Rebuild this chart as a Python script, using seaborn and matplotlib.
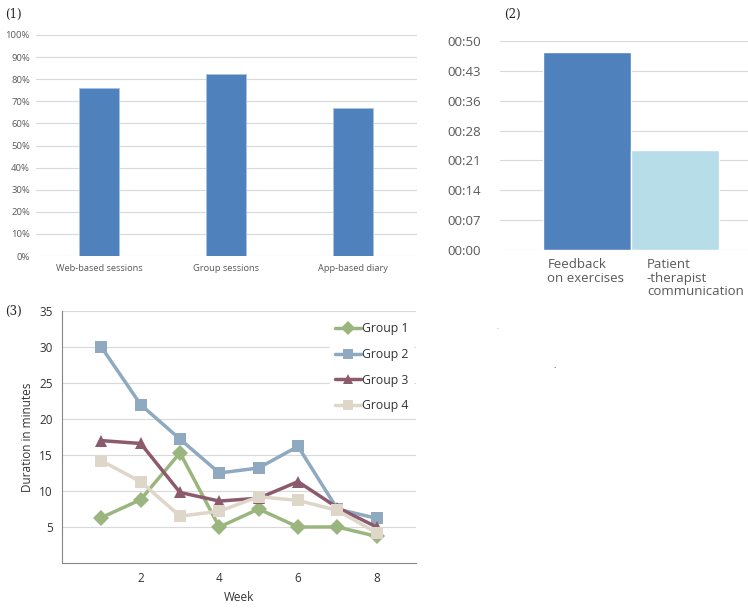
import matplotlib
matplotlib.use("Agg")
import matplotlib.pyplot as plt
import seaborn as sns
import pandas as pd

# (1) attendance / usage
usage_cats = ["Web-based sessions", "Group sessions", "App-based diary"]
usage_vals = [0.76, 0.823, 0.67]

# (2) time spent (minutes)
time_cats = ["Feedback\non exercises", "Patient\n-therapist\ncommunication"]
time_vals = [47.3, 23.9]
time_ticklabels = ["00:00", "00:07", "00:14", "00:21", "00:28", "00:36", "00:43", "00:50"]

# (3) duration per week
weeks = [1, 2, 3, 4, 5, 6, 7, 8]
group1 = [6.3, 8.8, 15.3, 5.0, 7.5, 5.0, 5.0, 3.7]
group2 = [30.0, 22.0, 17.2, 12.5, 13.2, 16.2, 7.5, 6.2]
group3 = [17.0, 16.6, 9.8, 8.6, 9.0, 11.3, 7.7, 5.0]
group4 = [14.2, 11.3, 6.5, 7.2, 9.2, 8.7, 7.3, 4.2]

sns.set_style("white")
plt.rcParams['font.family'] = ['Open Sans', 'DejaVu Sans']

fig = plt.figure(figsize=(7.48, 6.08), dpi=100)
W, H = 748, 608

def px_axes(x0, y0, x1, y1):
    # pixel box (top-left origin) -> figure axes
    return fig.add_axes([x0 / W, 1 - y1 / H, (x1 - x0) / W, (y1 - y0) / H])

grid_col = "#D9D9D9"
text_col = "#595959"

# ---------- panel 1 ----------
ax1 = px_axes(35.5, 35, 416.5, 256)
df1 = pd.DataFrame({"cat": usage_cats, "val": usage_vals})
sns.barplot(data=df1, x="cat", y="val", color="#4F81BD", width=0.31,
            edgecolor="#A9C4E4", linewidth=0.6, saturation=1, ax=ax1, zorder=3)
ax1.set_ylim(0, 1)
ax1.set_xlim(-0.5, 2.5)
ax1.set_yticks([i / 10 for i in range(11)])
ax1.set_yticklabels([f"{i * 10}%" for i in range(11)], fontsize=6.8, color=text_col)
ax1.tick_params(axis="x", labelsize=6.7, labelcolor=text_col, length=0, pad=6)
ax1.tick_params(axis="y", length=0, pad=4)
ax1.yaxis.grid(True, color=grid_col, linewidth=0.8, zorder=0)
ax1.set_axisbelow(True)
ax1.set_xlabel("")
ax1.set_ylabel("")
for s in ax1.spines.values():
    s.set_visible(False)

# ---------- panel 2 ----------
ax2 = px_axes(500, 41, 748, 250)
df2 = pd.DataFrame({"cat": time_cats, "val": time_vals})
sns.barplot(data=df2, x="cat", y="val", hue="cat", palette=["#4F81BD", "#B7DDE8"],
            width=1.0, saturation=1, legend=False, ax=ax2, zorder=3)
ax2.set_ylim(0, 50)
ax2.set_xlim(-0.99, 1.83)
ax2.set_yticks([i * 50 / 7 for i in range(8)])
ax2.set_yticklabels(time_ticklabels, fontsize=9.5, color=text_col)
ax2.tick_params(axis="y", length=0, pad=14)
ax2.set_xticks([])
ax2.yaxis.grid(True, color=grid_col, linewidth=0.8, zorder=0)
ax2.set_axisbelow(True)
ax2.set_xlabel("")
ax2.set_ylabel("")
for s in ax2.spines.values():
    s.set_visible(False)
for i, (lab, off) in enumerate(zip(time_cats, [-0.45, -0.32])):
    ax2.text(i + off, -0.04, lab, transform=ax2.get_xaxis_transform(),
             ha="left", va="top", fontsize=9.5, color=text_col, linespacing=1.05)

# ---------- panel 3 ----------
ax3 = px_axes(62, 311, 416, 563)
df3 = pd.DataFrame({
    "Week": weeks * 4,
    "Duration": group1 + group2 + group3 + group4,
    "Group": ["Group 1"] * 8 + ["Group 2"] * 8 + ["Group 3"] * 8 + ["Group 4"] * 8,
})
pal = {"Group 1": "#9BB57E", "Group 2": "#8EA9C0", "Group 3": "#8B5A6C", "Group 4": "#DED6C9"}
mk = {"Group 1": "D", "Group 2": "s", "Group 3": "^", "Group 4": "s"}
sns.lineplot(data=df3, x="Week", y="Duration", hue="Group", style="Group",
             palette=pal, markers=mk, dashes=False, linewidth=2.5,
             markersize=8, markeredgewidth=0, ax=ax3, zorder=3)
ax3.set_xlim(0, 9)
ax3.set_ylim(0, 35)
ax3.set_yticks([5, 10, 15, 20, 25, 30, 35])
ax3.set_xticks([0, 2, 4, 6, 8])
ax3.set_xticklabels(["", "2", "4", "6", "8"])
ax3.tick_params(axis="both", labelsize=8.5, labelcolor="#333333", color="#868686",
                length=3, width=0.8, direction="out")
ax3.yaxis.grid(True, color=grid_col, linewidth=0.8, zorder=0)
ax3.set_axisbelow(True)
ax3.set_xlabel("Week", fontsize=8.5, color="#333333")
ax3.set_ylabel("Duration in minutes", fontsize=8.5, color="#333333")
ax3.spines["top"].set_visible(False)
ax3.spines["right"].set_visible(False)
ax3.spines["left"].set_color("#868686")
ax3.spines["bottom"].set_color("#868686")
handles, labels = ax3.get_legend_handles_labels()
leg = ax3.legend(handles, labels, loc="upper right", bbox_to_anchor=(1.01, 1.0),
                 frameon=True, facecolor="white", edgecolor="white", framealpha=1,
                 fontsize=8.8, handlelength=2.2, handletextpad=0.05,
                 labelspacing=1.05, borderpad=0.4, markerscale=0.85)
leg.set_zorder(5)
for t in leg.get_texts():
    t.set_color("#333333")

# panel labels
for txt, x, y in [("(1)", 5, 14), ("(2)", 504, 14), ("(3)", 5, 311)]:
    fig.text(x / W, 1 - y / H, txt, fontsize=8.5, family="serif",
             ha="left", va="center", color="#222222")

fig.text(497 / W, 1 - 331 / H, ".", fontsize=5, color="#888888", ha="center", va="bottom")
fig.text(555 / W, 1 - 370 / H, ".", fontsize=6, color="#111111", ha="center", va="bottom")

fig.savefig("out.png", dpi=100)
